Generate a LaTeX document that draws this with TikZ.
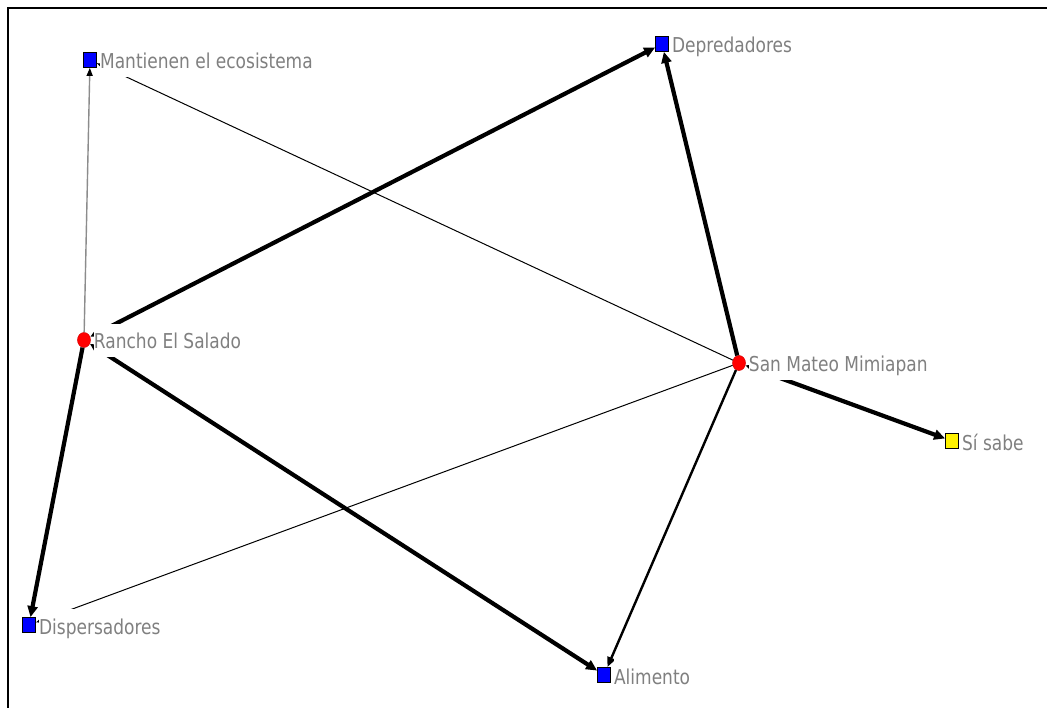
\documentclass[tikz,border=0pt]{standalone}
\usepackage{fontspec}
\setmainfont{DejaVu Sans}
\usetikzlibrary{arrows.meta,shapes.geometric}
\definecolor{labelgray}{RGB}{128,128,128}
\definecolor{faintgray}{RGB}{140,140,140}
\tikzset{
  actor/.style={ellipse, minimum width=13pt, minimum height=15pt, inner sep=0pt,
    fill=red, draw=red!85!black, line width=0.5pt},
  attr/.style={rectangle, minimum width=13pt, minimum height=15pt, inner sep=0pt,
    fill=blue, draw=black, line width=0.8pt},
  answer/.style={attr, fill=yellow},
  lbl/.style={anchor=base west, inner sep=0pt, fill=white, text height=25pt,
    text depth=8pt, text=labelgray, font=\fontsize{20.5}{24}\selectfont},
  heavy/.style={draw=black, line width=4.2pt},
  medium/.style={draw=black, line width=2.4pt},
  light/.style={draw=black, line width=1pt},
  faint/.style={draw=faintgray, line width=1.4pt},
  bigtip/.style={-{Triangle[length=11pt,width=10pt]}},
  bigtips/.style={{Triangle[length=11pt,width=10pt]}-{Triangle[length=11pt,width=10pt]}},
  midtip/.style={-{Triangle[length=10pt,width=8pt]}},
  smalltip/.style={-{Triangle[length=8pt,width=6pt,color=black]}},
}
\newcommand{\lbltext}[1]{\scalebox{0.83}[1]{#1}}
\begin{document}
\begin{tikzpicture}[x=1pt,y=-1pt]
  \useasboundingbox (0,0) rectangle (1047,708);
  \fill[white] (0,0) rectangle (1047,708);
  % frame
  \draw[line width=2pt] (1047,8) -- (8,8) -- (8,708);

  % nodes
  \node[attr]   (mant)   at (90,60)   {};
  \node[attr]   (dep)    at (662,44)  {};
  \node[actor]  (rancho) at (84,340)  {};
  \node[actor]  (smm)    at (739,363) {};
  \node[answer] (si)     at (952,441) {};
  \node[attr]   (disp)   at (29,625)  {};
  \node[attr]   (alim)   at (604,675) {};

  % ties
  \draw[faint, smalltip] (rancho) -- (mant);
  \draw[light, smalltip] (smm) -- (mant);
  \draw[light, smalltip] (smm) -- (disp);
  \draw[heavy, bigtips] (rancho) -- (dep);
  \draw[heavy, bigtips] (rancho) -- (alim);
  \draw[heavy, bigtip] (rancho) -- (disp);
  \draw[heavy, bigtip] (smm) -- (dep);
  \draw[heavy, bigtips] (smm) -- (si);
  \draw[medium, midtip] (smm) -- (alim);

  % labels (white boxes sit over the ties)
  \node[lbl] (mant-l)   at ([xshift=3pt,yshift=-9pt]mant.east)   {\lbltext{Mantienen el ecosistema}};
  \node[lbl] (dep-l)    at ([xshift=3pt,yshift=-9pt]dep.east)    {\lbltext{Depredadores}};
  \node[lbl] (rancho-l) at ([xshift=3pt,yshift=-9pt]rancho.east) {\lbltext{Rancho El Salado}};
  \node[lbl] (smm-l)    at ([xshift=3pt,yshift=-9pt]smm.east)    {\lbltext{San Mateo Mimiapan}};
  \node[lbl] (si-l)     at ([xshift=3pt,yshift=-9pt]si.east)     {\lbltext{Sí sabe}};
  \node[lbl] (disp-l)   at ([xshift=3pt,yshift=-9pt]disp.east)   {\lbltext{Dispersadores}};
  \node[lbl] (alim-l)   at ([xshift=3pt,yshift=-9pt]alim.east)   {\lbltext{Alimento}};
\end{tikzpicture}
\end{document}
